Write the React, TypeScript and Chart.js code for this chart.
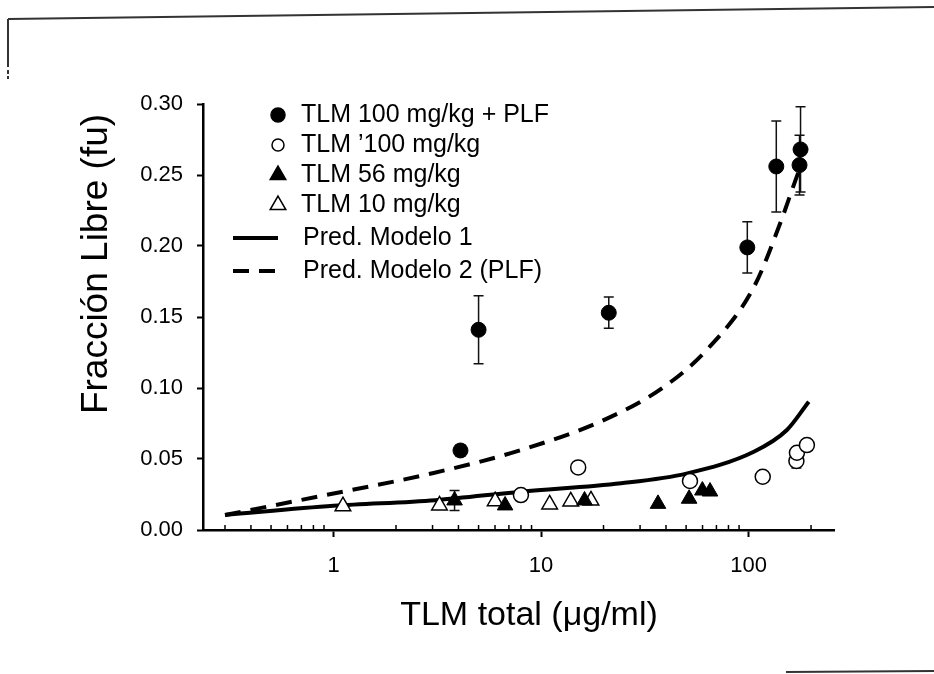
import { useEffect, useRef } from "react";
import { Chart, registerables } from "chart.js";

Chart.register(...registerables);

// ---- data ----
const plfX = [4.09, 5.0, 21.2, 98.6, 136, 176, 178];
const plfY = [0.056, 0.141, 0.153, 0.199, 0.256, 0.257, 0.268];
const plfErr = [0.004, 0.024, 0.011, 0.018, 0.032, 0.021, 0.03];

const tlm100X = [8.0, 15.1, 52.2, 117, 170, 171, 191];
const tlm100Y = [0.0246, 0.0441, 0.0345, 0.0375, 0.0486, 0.0544, 0.0598];
const tlm100Err = [0, 0, 0, 0, 0.005, 0, 0];

const tlm56X = [3.83, 6.71, 16.2, 36.6, 51.7, 59.9, 65.2];
const tlm56Y = [0.0208, 0.0173, 0.0208, 0.0184, 0.022, 0.0278, 0.0271];
const tlm56Err = [0.007, 0, 0, 0, 0, 0, 0];

const tlm10X = [1.11, 3.24, 6.01, 11.0, 13.9, 17.4];
const tlm10Y = [0.0168, 0.0173, 0.0203, 0.018, 0.0201, 0.0208];

const model1X = [0.3, 1, 3.1, 8, 24.3, 50.7, 106, 153, 195];
const model1Y = [0.0106, 0.017, 0.021, 0.027, 0.0329, 0.0399, 0.0551, 0.0704, 0.0903];

const model2X = [0.3, 0.84, 3.0, 8.0, 20.9, 39.2, 64, 106, 142, 168, 180];
const model2Y = [0.0106, 0.0235, 0.04, 0.0563, 0.0786, 0.1009, 0.128, 0.171, 0.216, 0.246, 0.258];

const xTickValues = [
  0.3, 0.4, 0.5, 0.6, 0.7, 0.8, 0.9,
  1, 2, 3, 4, 5, 6, 7, 8, 9,
  10, 20, 30, 40, 50, 60, 70, 80, 90,
  100, 200,
];
const xTickLabels = ["1", "10", "100"];
const xLabeledValues = [1, 10, 100];
const yTickValues = [0, 0.05, 0.1, 0.15, 0.2, 0.25, 0.3];

const xTitle = "TLM total (\u03bcg/ml)";
const yTitle = "Fracci\u00f3n Libre (fu)";

const seriesLabels = [
  "TLM 100 mg/kg + PLF",
  "TLM \u2019100 mg/kg",
  "TLM 56 mg/kg",
  "TLM 10 mg/kg",
  "Pred. Modelo 1",
  "Pred. Modelo 2 (PLF)",
];

const FONT = "'Liberation Sans', Arial, Helvetica, sans-serif";

const zip = (xs: number[], ys: number[]) => xs.map((x, i) => ({ x, y: ys[i] }));

const errorBarPlugin = {
  id: "errorBars",
  beforeDatasetsDraw(chart: any) {
    const ctx = chart.ctx;
    const ys = chart.scales.y;
    chart.data.datasets.forEach((ds: any, i: number) => {
      if (!ds.errors) return;
      const meta = chart.getDatasetMeta(i);
      meta.data.forEach((pt: any, j: number) => {
        const e = ds.errors[j];
        if (!e) return;
        const v = ds.data[j].y;
        const yt = ys.getPixelForValue(v + e);
        const yb = ys.getPixelForValue(v - e);
        ctx.save();
        ctx.strokeStyle = "#111";
        ctx.lineWidth = 1.5;
        ctx.beginPath();
        ctx.moveTo(pt.x, yt);
        ctx.lineTo(pt.x, yb);
        ctx.moveTo(pt.x - 5, yt);
        ctx.lineTo(pt.x + 5, yt);
        ctx.moveTo(pt.x - 5, yb);
        ctx.lineTo(pt.x + 5, yb);
        ctx.stroke();
        ctx.restore();
      });
    });
  },
};

const minorTickPlugin = {
  id: "minorTicks",
  afterDraw(chart: any) {
    const ctx = chart.ctx;
    const xs = chart.scales.x;
    const yPix = chart.chartArea.bottom;
    ctx.save();
    ctx.strokeStyle = "#000";
    ctx.lineWidth = 1.5;
    xTickValues.forEach((v) => {
      if (xLabeledValues.includes(v)) return;
      const px = xs.getPixelForValue(v);
      ctx.beginPath();
      ctx.moveTo(px, yPix);
      ctx.lineTo(px, yPix - 5);
      ctx.stroke();
    });
    ctx.restore();
  },
};

const titlesPlugin = {
  id: "axisTitles",
  afterDraw(chart: any) {
    const ctx = chart.ctx;
    ctx.save();
    ctx.fillStyle = "#000";
    ctx.textAlign = "center";
    ctx.textBaseline = "middle";
    ctx.font = `34px ${FONT}`;
    ctx.fillText(xTitle, 529, 616);
    ctx.translate(97, 264);
    ctx.rotate(-Math.PI / 2);
    ctx.font = `37px ${FONT}`;
    ctx.fillText(yTitle, 0, 0);
    ctx.restore();
  },
};

function drawMarker(ctx: any, style: string, x: number, y: number, r: number, fill: string) {
  ctx.beginPath();
  if (style === "triangle") {
    for (let k = 0; k < 3; k++) {
      const a = (k * 2 * Math.PI) / 3;
      const px = x + Math.sin(a) * r;
      const py = y - Math.cos(a) * r;
      if (k === 0) ctx.moveTo(px, py);
      else ctx.lineTo(px, py);
    }
    ctx.closePath();
  } else {
    ctx.arc(x, y, r, 0, Math.PI * 2);
  }
  ctx.fillStyle = fill;
  ctx.fill();
  ctx.strokeStyle = "#000";
  ctx.lineWidth = 1.5;
  ctx.stroke();
}

const legendPlugin = {
  id: "insideLegend",
  afterDraw(chart: any) {
    const ctx = chart.ctx;
    const markerX = 278;
    const textX = 301;
    const rowY = [115, 145, 175, 205, 238, 271];
    ctx.save();
    ctx.font = `25px ${FONT}`;
    ctx.textBaseline = "middle";
    ctx.fillStyle = "#000";
    chart.data.datasets.forEach((ds: any, i: number) => {
      const y = rowY[i];
      if (ds.showLine) {
        ctx.save();
        ctx.strokeStyle = "#000";
        ctx.lineWidth = 4;
        ctx.setLineDash(ds.borderDash || []);
        ctx.beginPath();
        ctx.moveTo(233, y);
        ctx.lineTo(278, y);
        ctx.stroke();
        ctx.restore();
        ctx.fillText(ds.label, textX + 2, y);
      } else {
        drawMarker(ctx, ds.pointStyle, markerX, y, ds.legendRadius, ds.pointBackgroundColor);
        ctx.fillStyle = "#000";
        ctx.fillText(ds.label, textX, y);
      }
    });
    ctx.restore();
  },
};

const framePlugin = {
  id: "frame",
  afterDraw(chart: any) {
    const ctx = chart.ctx;
    ctx.save();
    ctx.strokeStyle = "#333";
    ctx.lineWidth = 2;
    ctx.beginPath();
    ctx.moveTo(8, 19);
    ctx.lineTo(934, 7);
    ctx.moveTo(8, 19);
    ctx.lineTo(8, 67);
    ctx.moveTo(8, 70);
    ctx.lineTo(8, 74);
    ctx.moveTo(8, 76);
    ctx.lineTo(8, 79);
    ctx.moveTo(786, 672);
    ctx.lineTo(934, 671);
    ctx.stroke();
    ctx.restore();
  },
};

export default function App() {
  const ref = useRef<HTMLCanvasElement>(null);

  useEffect(() => {
    if (!ref.current) return;
    const chart = new Chart(ref.current, {
      type: "scatter",
      data: {
        datasets: [
          {
            label: seriesLabels[0],
            data: zip(plfX, plfY),
            errors: plfErr,
            pointStyle: "circle",
            pointRadius: 7.5,
            legendRadius: 7,
            pointBackgroundColor: "#000",
            pointBorderColor: "#000",
            pointBorderWidth: 1,
          } as any,
          {
            label: seriesLabels[1],
            data: zip(tlm100X, tlm100Y),
            errors: tlm100Err,
            pointStyle: "circle",
            pointRadius: 7.5,
            legendRadius: 6,
            pointBackgroundColor: "#fff",
            pointBorderColor: "#000",
            pointBorderWidth: 1.5,
          } as any,
          {
            label: seriesLabels[2],
            data: zip(tlm56X, tlm56Y),
            errors: tlm56Err,
            pointStyle: "triangle",
            pointRadius: 9,
            legendRadius: 9,
            pointBackgroundColor: "#000",
            pointBorderColor: "#000",
            pointBorderWidth: 1,
          } as any,
          {
            label: seriesLabels[3],
            data: zip(tlm10X, tlm10Y),
            pointStyle: "triangle",
            pointRadius: 9,
            legendRadius: 9,
            pointBackgroundColor: "#fff",
            pointBorderColor: "#000",
            pointBorderWidth: 1.5,
          } as any,
          {
            label: seriesLabels[4],
            data: zip(model1X, model1Y),
            showLine: true,
            pointRadius: 0,
            borderColor: "#000",
            borderWidth: 4,
            cubicInterpolationMode: "monotone",
          } as any,
          {
            label: seriesLabels[5],
            data: zip(model2X, model2Y),
            showLine: true,
            pointRadius: 0,
            borderColor: "#000",
            borderWidth: 4,
            borderDash: [16, 10],
            cubicInterpolationMode: "monotone",
          } as any,
        ],
      },
      options: {
        animation: false,
        responsive: false,
        devicePixelRatio: 1,
        layout: { padding: { top: 104, right: 100, left: 0, bottom: 0 } },
        plugins: {
          legend: { display: false },
          tooltip: { enabled: false },
        },
        scales: {
          x: {
            type: "logarithmic",
            position: "bottom",
            min: 0.235,
            max: 258,
            afterBuildTicks: (scale: any) => {
              scale.ticks = xTickValues.map((v) => ({ value: v, major: xLabeledValues.includes(v) }));
            },
            afterFit: (scale: any) => {
              scale.height = 144;
            },
            ticks: {
              autoSkip: false,
              maxRotation: 0,
              minRotation: 0,
              padding: 16,
              color: "#000",
              font: { family: FONT, size: 22 },
              callback: (v: any) => {
                const idx = xLabeledValues.indexOf(Number(v));
                return idx >= 0 ? xTickLabels[idx] : "";
              },
            },
            grid: {
              drawOnChartArea: false,
              drawTicks: true,
              tickLength: 7,
              tickWidth: 2,
              tickColor: (c: any) =>
                c.tick && xLabeledValues.includes(c.tick.value) ? "#000" : "rgba(0,0,0,0)",
            },
            border: { display: true, color: "#000", width: 2.5 },
            title: { display: false, text: xTitle },
          },
          y: {
            min: 0,
            max: 0.3,
            afterBuildTicks: (scale: any) => {
              scale.ticks = yTickValues.map((v) => ({ value: v }));
            },
            afterFit: (scale: any) => {
              scale.width = 203;
            },
            ticks: {
              padding: 14,
              color: "#000",
              font: { family: FONT, size: 22 },
              callback: (v: any) => Number(v).toFixed(2),
            },
            grid: {
              drawOnChartArea: false,
              drawTicks: true,
              tickLength: 6,
              tickWidth: 2,
              tickColor: "#000",
            },
            border: { display: true, color: "#000", width: 2.5 },
            title: { display: false, text: yTitle },
          },
        },
      } as any,
      plugins: [errorBarPlugin, minorTickPlugin, legendPlugin, titlesPlugin, framePlugin],
    });
    return () => chart.destroy();
  }, []);

  return (
    <div style={{ position: "absolute", left: 0, top: 0, width: 934, height: 674, background: "#fff" }}>
      <canvas ref={ref} width={934} height={674} />
    </div>
  );
}
